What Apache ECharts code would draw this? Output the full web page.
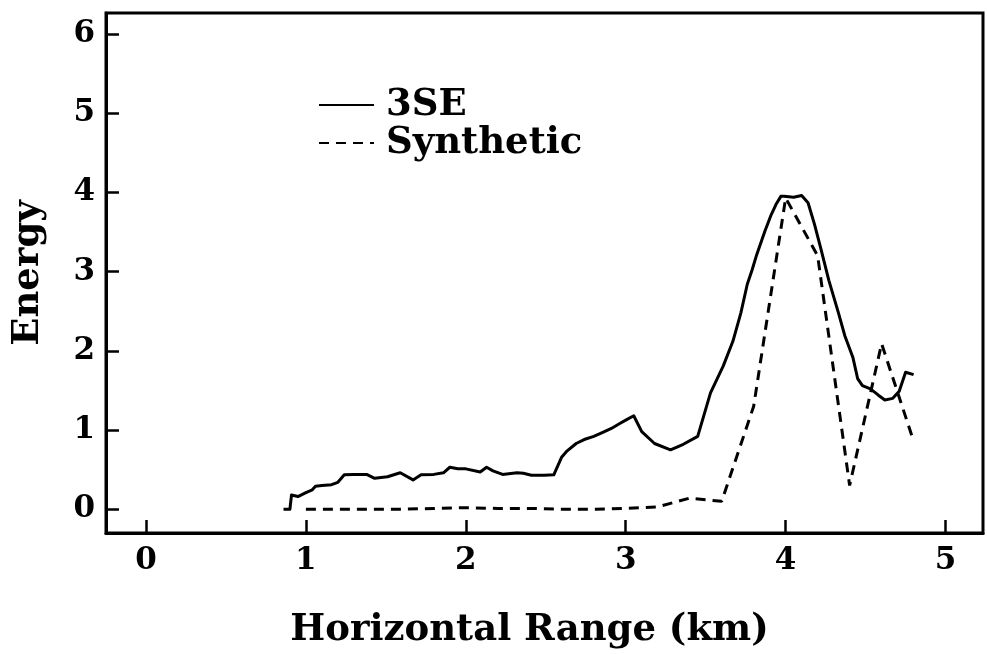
<!DOCTYPE html>
<html>
<head>
<meta charset="utf-8">
<script src="https://cdn.jsdelivr.net/npm/echarts@6/dist/echarts.min.js"></script>
<style>
  html, body { margin: 0; padding: 0; background: #fff; }
  #chart { width: 987px; height: 654px; }
</style>
</head>
<body>
<div id="chart"></div>
<script>
// Measured energy (3SE) along the profile
const range3SE = [0.86, 0.90, 0.91, 0.95, 1.00, 1.04, 1.06, 1.10, 1.16, 1.20, 1.24, 1.30, 1.38, 1.43, 1.51, 1.59, 1.67, 1.72, 1.80, 1.86, 1.90, 1.95, 2.00, 2.09, 2.13, 2.17, 2.23, 2.32, 2.36, 2.41, 2.49, 2.55, 2.60, 2.63, 2.69, 2.74, 2.80, 2.86, 2.91, 2.96, 3.00, 3.05, 3.10, 3.18, 3.28, 3.36, 3.45, 3.53, 3.61, 3.67, 3.72, 3.76, 3.79, 3.82, 3.87, 3.91, 3.94, 3.97, 3.99, 4.05, 4.10, 4.14, 4.18, 4.22, 4.27, 4.33, 4.37, 4.42, 4.45, 4.48, 4.53, 4.58, 4.62, 4.67, 4.71, 4.75, 4.80];
const energy3SE = [0, 0, 0.18, 0.16, 0.21, 0.245, 0.29, 0.30, 0.31, 0.34, 0.435, 0.44, 0.44, 0.39, 0.41, 0.46, 0.37, 0.435, 0.44, 0.46, 0.53, 0.51, 0.51, 0.47, 0.53, 0.485, 0.44, 0.46, 0.455, 0.43, 0.43, 0.435, 0.66, 0.73, 0.83, 0.88, 0.92, 0.975, 1.02, 1.08, 1.125, 1.18, 0.98, 0.83, 0.75, 0.82, 0.92, 1.47, 1.81, 2.12, 2.48, 2.84, 3.02, 3.22, 3.51, 3.72, 3.85, 3.95, 3.95, 3.94, 3.96, 3.87, 3.60, 3.29, 2.89, 2.48, 2.19, 1.92, 1.65, 1.56, 1.52, 1.44, 1.38, 1.40, 1.49, 1.73, 1.70];

// Synthetic energy, sampled every 0.2 km
const rangeSynthetic = [1.0, 1.2, 1.4, 1.6, 1.8, 2.0, 2.2, 2.4, 2.6, 2.8, 3.0, 3.2, 3.4, 3.6, 3.8, 4.0, 4.2, 4.4, 4.6, 4.8];
const energySynthetic = [0, 0, 0, 0, 0.01, 0.02, 0.01, 0.01, 0, 0, 0.01, 0.03, 0.14, 0.10, 1.30, 3.93, 3.20, 0.30, 2.09, 0.86];

// Axis ticks
const xTicks = [0, 1, 2, 3, 4, 5];
const yTicks = [0, 1, 2, 3, 4, 5, 6];

const zip = (xs, ys) => xs.map((x, i) => [x, ys[i]]);

const FONT = 'DejaVu Serif';
const chart = echarts.init(document.getElementById('chart'), null, { renderer: 'canvas' });

chart.setOption({
  backgroundColor: '#ffffff',
  animation: false,
  grid: {
    left: 106, right: 4, top: 13, bottom: 118,
    show: true, borderColor: '#000', borderWidth: 3, backgroundColor: 'transparent'
  },
  legend: {
    orient: 'vertical',
    left: 313, top: 81,
    itemWidth: 55, itemHeight: 14, itemGap: 0,
    data: ['3SE', 'Synthetic'],
    itemStyle: { color: 'transparent', borderWidth: 0 },
    textStyle: { fontFamily: FONT, fontWeight: 'bold', fontSize: 37, color: '#000', lineHeight: 38, padding: [0, 0, 0, 7] }
  },
  xAxis: {
    type: 'value', min: -0.25, max: 5.234,
    name: 'Horizontal Range (km)', nameLocation: 'middle', nameGap: 79,
    nameTextStyle: { fontFamily: FONT, fontWeight: 'bold', fontSize: 37, color: '#000', padding: [0, 30, 0, 0] },
    axisLine: { show: true, onZero: false, lineStyle: { color: '#000', width: 3 } },
    axisTick: { show: true, inside: true, length: 13, customValues: xTicks, lineStyle: { color: '#000', width: 2.5 } },
    axisLabel: { customValues: xTicks, margin: 12, fontFamily: FONT, fontWeight: 'bold', fontSize: 31, color: '#000' },
    splitLine: { show: false }
  },
  yAxis: {
    type: 'value', min: -0.3, max: 6.265,
    name: 'Energy', nameLocation: 'middle', nameGap: 59, nameRotate: 90,
    nameTextStyle: { fontFamily: FONT, fontWeight: 'bold', fontSize: 37, color: '#000' },
    axisLine: { show: true, onZero: false, lineStyle: { color: '#000', width: 3 } },
    axisTick: { show: true, inside: true, length: 13, customValues: yTicks, lineStyle: { color: '#000', width: 2.5 } },
    axisLabel: { customValues: yTicks, margin: 11, fontFamily: FONT, fontWeight: 'bold', fontSize: 31, color: '#000' },
    splitLine: { show: false }
  },
  series: [
    {
      name: '3SE', type: 'line', symbol: 'none',
      data: zip(range3SE, energy3SE),
      lineStyle: { color: '#000', width: 3, type: 'solid', join: 'round' },
      itemStyle: { color: '#000' }
    },
    {
      name: 'Synthetic', type: 'line', symbol: 'none',
      data: zip(rangeSynthetic, energySynthetic),
      lineStyle: { color: '#000', width: 3, type: [10, 7] },
      itemStyle: { color: '#000' }
    }
  ]
});
</script>
</body>
</html>
